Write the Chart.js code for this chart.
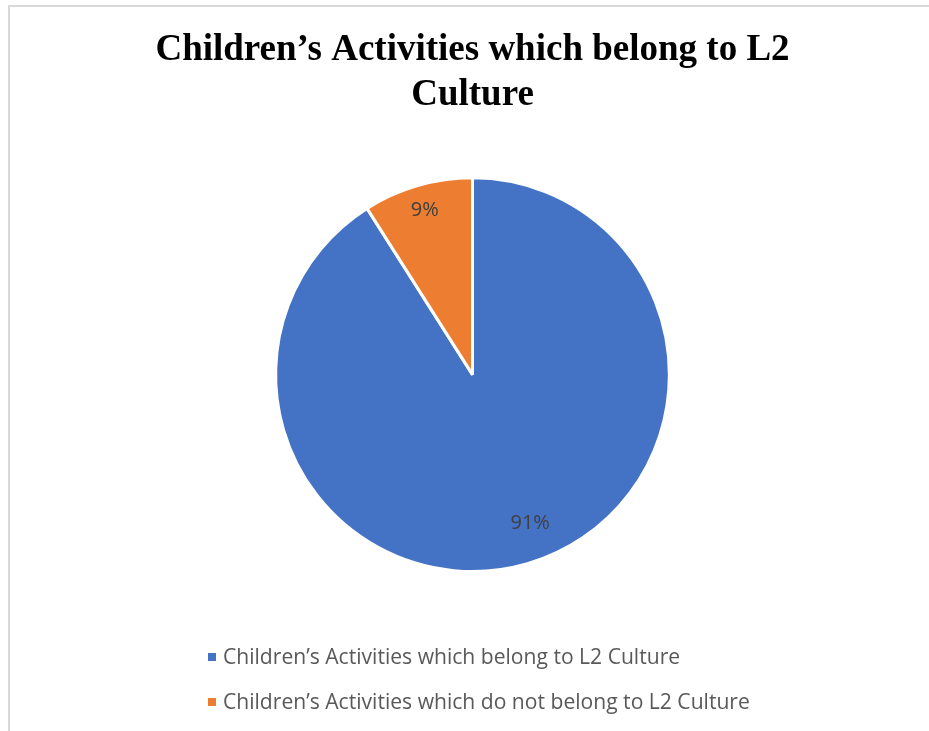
<!DOCTYPE html>
<html>
<head>
    <title>Children's Activities - Pie</title>
    <script src="https://cdn.jsdelivr.net/npm/chart.js@4"></script>
    <style type="text/css">
        body { margin: 0; background: #fff; }
        #frame {
            position: absolute; left: 8px; top: 5px; width: 1000px; height: 800px;
            border-left: 2px solid #d9d9d9; border-top: 2px solid #d9d9d9;
        }
        #chart-container { position: absolute; left: 0; top: 0; width: 929px; height: 731px; }
        #legend { position: absolute; left: 208px; top: 641px; font-family: "Open Sans", sans-serif; font-size: 21.1px; color: #595959; }
        #legend div { height: 45px; line-height: 30px; white-space: nowrap; }
        #legend span.box { display: inline-block; width: 8px; height: 8px; margin-right: 7px; vertical-align: 3px; }
    </style>
</head>
<body>
    <div id="frame"></div>
    <div id="chart-container">
        <canvas id="mycanvas" width="929" height="731"></canvas>
    </div>
    <div id="legend"></div>

    <script>
        var titleLines = ["Children\u2019s Activities which belong to L2", "Culture"];
        var categories = [
            "Children\u2019s Activities which belong to L2 Culture",
            "Children\u2019s Activities which do not belong to L2 Culture"
        ];
        var values = [91, 9];
        var colors = ["#4472c4", "#ed7d31"];
        var labelRadius = [0.81, 0.87];
        var labelShiftDeg = [-5, 0];

        // percent labels inside slices
        var sliceLabels = {
            id: "sliceLabels",
            afterDatasetsDraw: function (chart) {
                var ctx = chart.ctx;
                var meta = chart.getDatasetMeta(0);
                var total = values.reduce(function (a, b) { return a + b; }, 0);
                ctx.save();
                ctx.font = "20px 'Open Sans', sans-serif";
                ctx.fillStyle = "#404040";
                ctx.textAlign = "center";
                ctx.textBaseline = "middle";
                meta.data.forEach(function (arc, i) {
                    var mid = (arc.startAngle + arc.endAngle) / 2 + labelShiftDeg[i] * Math.PI / 180;
                    var r = arc.outerRadius * labelRadius[i];
                    var x = arc.x + Math.cos(mid) * r;
                    var y = arc.y + Math.sin(mid) * r;
                    ctx.fillText(Math.round(values[i] / total * 100) + "%", x, y);
                });
                ctx.restore();
            }
        };

        var ctx = document.getElementById("mycanvas");
        var pieChart = new Chart(ctx, {
            type: "pie",
            data: {
                labels: categories,
                datasets: [{
                    data: values,
                    backgroundColor: colors,
                    borderColor: "#ffffff",
                    borderWidth: 3
                }]
            },
            options: {
                responsive: false,
                animation: false,
                layout: { padding: { left: 16, top: 4, bottom: 158 } },
                plugins: {
                    legend: { display: false },
                    tooltip: { enabled: false },
                    title: {
                        display: true,
                        text: titleLines,
                        color: "#000000",
                        font: { family: "'Liberation Serif', serif", size: 37, weight: "bold", lineHeight: 1.22 },
                        padding: { top: 24, bottom: 58 }
                    }
                }
            },
            plugins: [sliceLabels]
        });

        // html legend so rows line up on the left
        var legend = document.getElementById("legend");
        categories.forEach(function (name, i) {
            var row = document.createElement("div");
            var box = document.createElement("span");
            box.className = "box";
            box.style.background = colors[i];
            row.appendChild(box);
            row.appendChild(document.createTextNode(name));
            legend.appendChild(row);
        });
    </script>
</body>
</html>
